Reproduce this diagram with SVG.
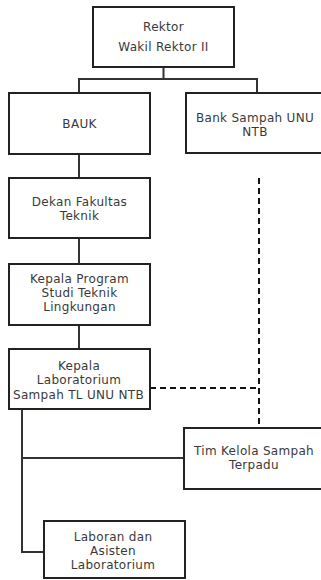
<svg xmlns="http://www.w3.org/2000/svg" width="321" height="580" viewBox="0 0 321 580">
<style>
.box{fill:#fff;stroke:#222;stroke-width:2}
.t{font-family:"DejaVu Sans","Liberation Sans",sans-serif;font-size:12px;letter-spacing:0.3px;fill:#3a3a3a;text-anchor:middle}
.ln{fill:none;stroke:#333;stroke-width:2}
.dash{fill:none;stroke:#111;stroke-width:2;stroke-dasharray:6 4}
</style>
<rect width="321" height="580" fill="#fff"/>
<g id="connectors">
<path class="ln" d="M163.5 67V79M79 79H257M79 78V93M257 78V93"/>
<path class="ln" d="M79 154V178M79 238V264M79 325V349"/>
<path class="ln" d="M22 409V552H44M22 458H184"/>
<path class="dash" d="M259 178V432M150 388H259"/>
</g>
<g id="rektor">
<rect class="box" x="93" y="7" width="141" height="60"/>
<text class="t" x="163.5" y="30.5">Rektor</text>
<text class="t" x="163.5" y="50.5">Wakil Rektor II</text>
</g>
<g id="bauk">
<rect class="box" x="9" y="93" width="141" height="61"/>
<text class="t" x="79.5" y="127.5">BAUK</text>
</g>
<g id="bank-sampah">
<rect class="box" x="186" y="93" width="145" height="60"/>
<text class="t" x="255" y="122">Bank Sampah UNU</text>
<text class="t" x="255" y="136">NTB</text>
</g>
<g id="dekan">
<rect class="box" x="9" y="178" width="141" height="60"/>
<text class="t" x="79.5" y="205.5">Dekan Fakultas</text>
<text class="t" x="79.5" y="219.5">Teknik</text>
</g>
<g id="kaprodi">
<rect class="box" x="9" y="264" width="141" height="61"/>
<text class="t" x="79.5" y="283">Kepala Program</text>
<text class="t" x="79.5" y="297">Studi Teknik</text>
<text class="t" x="79.5" y="311">Lingkungan</text>
</g>
<g id="kalab">
<rect class="box" x="9" y="349" width="141" height="60"/>
<text class="t" x="79" y="370">Kepala</text>
<text class="t" x="79" y="384">Laboratorium</text>
<text class="t" x="78.5" y="398.5">Sampah TL UNU NTB</text>
</g>
<g id="tim-kelola">
<rect class="box" x="184" y="428" width="146" height="61"/>
<text class="t" x="254" y="455">Tim Kelola Sampah</text>
<text class="t" x="254" y="469">Terpadu</text>
</g>
<g id="laboran">
<rect class="box" x="44" y="521" width="141" height="57"/>
<text class="t" x="113" y="541">Laboran dan</text>
<text class="t" x="113" y="555">Asisten</text>
<text class="t" x="113" y="569">Laboratorium</text>
</g>
</svg>
